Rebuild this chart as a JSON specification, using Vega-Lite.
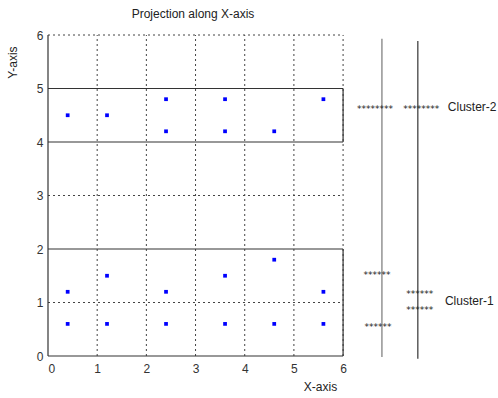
{
  "$schema": "https://vega.github.io/schema/vega-lite/v6.json",
  "autosize": "none",
  "width": 450,
  "height": 321,
  "padding": {"left": 48, "top": 35, "right": 0, "bottom": 42},
  "background": "white",
  "title": {"text": "Projection along X-axis", "anchor": "middle", "dx": -80, "offset": 8, "fontSize": 12, "fontWeight": "normal", "font": "Liberation Sans", "color": "#222"},
  "config": {"view": {"stroke": null}},
  "datasets": {
    "points": [
      {"x": 0.4, "y": 4.5, "cluster": "Cluster-2"},
      {"x": 1.2, "y": 4.5, "cluster": "Cluster-2"},
      {"x": 2.4, "y": 4.8, "cluster": "Cluster-2"},
      {"x": 2.4, "y": 4.2, "cluster": "Cluster-2"},
      {"x": 3.6, "y": 4.8, "cluster": "Cluster-2"},
      {"x": 3.6, "y": 4.2, "cluster": "Cluster-2"},
      {"x": 4.6, "y": 4.2, "cluster": "Cluster-2"},
      {"x": 5.6, "y": 4.8, "cluster": "Cluster-2"},
      {"x": 0.4, "y": 1.2, "cluster": "Cluster-1"},
      {"x": 0.4, "y": 0.6, "cluster": "Cluster-1"},
      {"x": 1.2, "y": 1.5, "cluster": "Cluster-1"},
      {"x": 1.2, "y": 0.6, "cluster": "Cluster-1"},
      {"x": 2.4, "y": 1.2, "cluster": "Cluster-1"},
      {"x": 2.4, "y": 0.6, "cluster": "Cluster-1"},
      {"x": 3.6, "y": 1.5, "cluster": "Cluster-1"},
      {"x": 3.6, "y": 0.6, "cluster": "Cluster-1"},
      {"x": 4.6, "y": 1.8, "cluster": "Cluster-1"},
      {"x": 4.6, "y": 0.6, "cluster": "Cluster-1"},
      {"x": 5.6, "y": 1.2, "cluster": "Cluster-1"},
      {"x": 5.6, "y": 0.6, "cluster": "Cluster-1"}
    ],
    "grid": [
      {"x": 1, "x2": 1, "y": 0, "y2": 6},
      {"x": 2, "x2": 2, "y": 0, "y2": 6},
      {"x": 3, "x2": 3, "y": 0, "y2": 6},
      {"x": 4, "x2": 4, "y": 0, "y2": 6},
      {"x": 5, "x2": 5, "y": 0, "y2": 6},
      {"x": 6, "x2": 6, "y": 0, "y2": 6},
      {"x": 0, "x2": 6, "y": 1, "y2": 1},
      {"x": 0, "x2": 6, "y": 3, "y2": 3},
      {"x": 0, "x2": 6, "y": 6, "y2": 6}
    ],
    "boxes": [
      {"x": 0, "x2": 6, "y": 0, "y2": 0},
      {"x": 0, "x2": 6, "y": 2, "y2": 2},
      {"x": 0, "x2": 6, "y": 4, "y2": 4},
      {"x": 0, "x2": 6, "y": 5, "y2": 5},
      {"x": 0, "x2": 0, "y": 0, "y2": 6},
      {"x": 6, "x2": 6, "y": 0, "y2": 2},
      {"x": 6, "x2": 6, "y": 4, "y2": 5}
    ],
    "projections": [
      {"name": "first", "x": 6.79, "x2": 6.79, "y": -0.02, "y2": 5.93},
      {"name": "second", "x": 7.52, "x2": 7.52, "y": -0.05, "y2": 5.89}
    ],
    "stars": [
      {"x": 6.65, "y": 4.65, "text": "********"},
      {"x": 7.59, "y": 4.65, "text": "********"},
      {"x": 6.69, "y": 1.55, "text": "******"},
      {"x": 6.71, "y": 0.58, "text": "******"},
      {"x": 7.56, "y": 1.2, "text": "******"},
      {"x": 7.56, "y": 0.9, "text": "******"}
    ],
    "labels": [
      {"x": 8.13, "y": 4.65, "text": "Cluster-2"},
      {"x": 8.07, "y": 1.03, "text": "Cluster-1"}
    ]
  },
  "encoding": {
    "x": {"field": "x", "type": "quantitative", "scale": {"domain": [0, 9.15], "nice": false},
      "axis": {"values": [0, 1, 2, 3, 4, 5, 6], "grid": false, "domain": false, "ticks": false, "labelPadding": 7, "labelFontSize": 12, "labelFont": "Liberation Sans", "labelColor": "#333", "title": "X-axis", "titleFontSize": 12, "titleFontWeight": "normal", "titleFont": "Liberation Sans", "titleColor": "#222", "titleX": 272, "titleY": 25, "titleAlign": "center", "titleBaseline": "top"}},
    "y": {"field": "y", "type": "quantitative", "scale": {"domain": [0, 6], "nice": false},
      "axis": {"values": [0, 1, 2, 3, 4, 5, 6], "grid": false, "domain": false, "ticks": false, "labelPadding": 5, "labelFontSize": 12, "labelFont": "Liberation Sans", "labelColor": "#333", "title": "Y-axis", "titleFontSize": 12, "titleFontWeight": "normal", "titleFont": "Liberation Sans", "titleColor": "#222", "titleX": -36, "titleY": 27, "titleAlign": "center", "titleBaseline": "middle", "titleAngle": -90}}
  },
  "layer": [
    {"data": {"name": "grid"}, "mark": {"type": "rule", "color": "#444", "strokeDash": [2, 3], "strokeWidth": 1},
      "encoding": {"x2": {"field": "x2"}, "y2": {"field": "y2"}}},
    {"data": {"name": "boxes"}, "mark": {"type": "rule", "color": "#333", "strokeWidth": 1.2},
      "encoding": {"x2": {"field": "x2"}, "y2": {"field": "y2"}}},
    {"data": {"name": "projections"}, "mark": {"type": "rule", "strokeWidth": 1.2},
      "encoding": {"x2": {"field": "x2"}, "y2": {"field": "y2"},
        "color": {"field": "name", "type": "nominal", "scale": {"domain": ["first", "second"], "range": ["#777", "#333"]}, "legend": null}}},
    {"data": {"name": "points"}, "mark": {"type": "square", "size": 14, "filled": true, "color": "#0000ff", "opacity": 1}},
    {"data": {"name": "stars"}, "mark": {"type": "text", "fontSize": 9, "font": "DejaVu Sans", "color": "#222", "align": "center", "baseline": "middle", "dy": 2},
      "encoding": {"text": {"field": "text"}}},
    {"data": {"name": "labels"}, "mark": {"type": "text", "fontSize": 12, "font": "Liberation Sans", "color": "#222", "align": "left", "baseline": "middle"},
      "encoding": {"text": {"field": "text"}}}
  ]
}
